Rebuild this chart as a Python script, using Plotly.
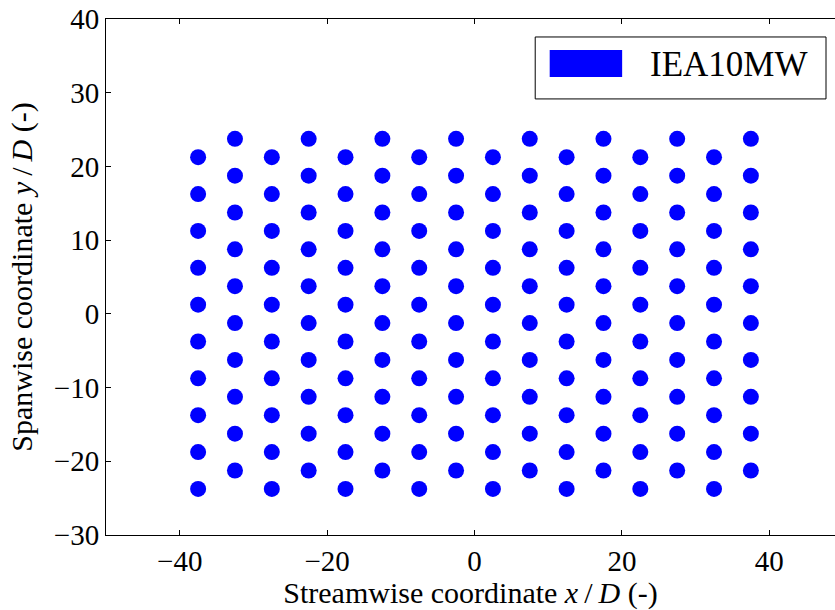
import plotly.graph_objects as go

# Turbine layout of the IEA 10 MW farm (coordinates normalised by rotor diameter D)
series_name = "IEA10MW"
column_x = [-37.5, -32.5, -27.5, -22.5, -17.5, -12.5, -7.5, -2.5,
            2.5, 7.5, 12.5, 17.5, 22.5, 27.5, 32.5, 37.5]
# rows used by the 1st, 3rd, 5th ... columns
rows_a = [-23.75, -18.75, -13.75, -8.75, -3.75, 1.25, 6.25, 11.25, 16.25, 21.25]
# rows used by the 2nd, 4th, 6th ... columns (staggered)
rows_b = [-21.25, -16.25, -11.25, -6.25, -1.25, 3.75, 8.75, 13.75, 18.75, 23.75]

x_ticks = [-40, -20, 0, 20, 40]
y_ticks = [-30, -20, -10, 0, 10, 20, 30, 40]

xs, ys = [], []
for i, cx in enumerate(column_x):
    rows = rows_a if i % 2 == 0 else rows_b
    for ry in rows:
        xs.append(cx)
        ys.append(ry)

W, H = 835, 610
ML, MR, MT, MB = 105.5, 0, 19, 74.5
PW, PH = W - ML - MR, H - MT - MB

def px(xp):
    return (xp - ML) / PW

def py(yp):
    return (H - MB - yp) / PH

serif = "Liberation Serif, Times New Roman, serif"
blue = "#0000ff"
thin = "\u2009"

fig = go.Figure()
fig.add_trace(go.Scatter(
    x=xs, y=ys, mode="markers", name=series_name, showlegend=False,
    marker=dict(size=16, color=blue, line=dict(width=0)),
))

axis_common = dict(
    showgrid=False, zeroline=False, showline=True, linecolor="black", linewidth=1,
    ticks="inside", ticklen=5, tickwidth=1, tickcolor="black",
    tickfont=dict(family=serif, size=29, color="black"),
)

fig.update_xaxes(
    range=[-50, -50 + PW / 7.375], tickvals=x_ticks, mirror="ticks",
    title=dict(text=f"Streamwise coordinate <i>x</i>{thin}/{thin}<i>D</i> (-)",
               font=dict(family=serif, size=30, color="black"), standoff=3),
    **axis_common,
)
fig.update_yaxes(
    range=[-30, 40], tickvals=y_ticks, mirror=False,
    title=dict(text=f"Spanwise coordinate <i>y</i>{thin}/{thin}<i>D</i> (-)",
               font=dict(family=serif, size=30, color="black"), standoff=12),
    **axis_common,
)

# legend box drawn by hand so the key is a wide filled patch
fig.add_shape(type="rect", xref="paper", yref="paper",
              x0=px(535), x1=px(826), y0=py(99), y1=py(37),
              line=dict(color="black", width=1), fillcolor="white")
fig.add_shape(type="rect", xref="paper", yref="paper",
              x0=px(549.5), x1=px(622), y0=py(77), y1=py(50),
              line=dict(color=blue, width=0), fillcolor=blue)
fig.add_annotation(xref="paper", yref="paper", x=px(648), y=py(65),
                   xanchor="left", yanchor="middle", showarrow=False,
                   text=series_name, font=dict(family=serif, size=35, color="black"))

fig.update_layout(
    width=W, height=H, autosize=False,
    margin=dict(l=ML, r=MR, t=MT, b=MB, pad=0),
    plot_bgcolor="white", paper_bgcolor="white",
)

fig.write_html("out.html")
